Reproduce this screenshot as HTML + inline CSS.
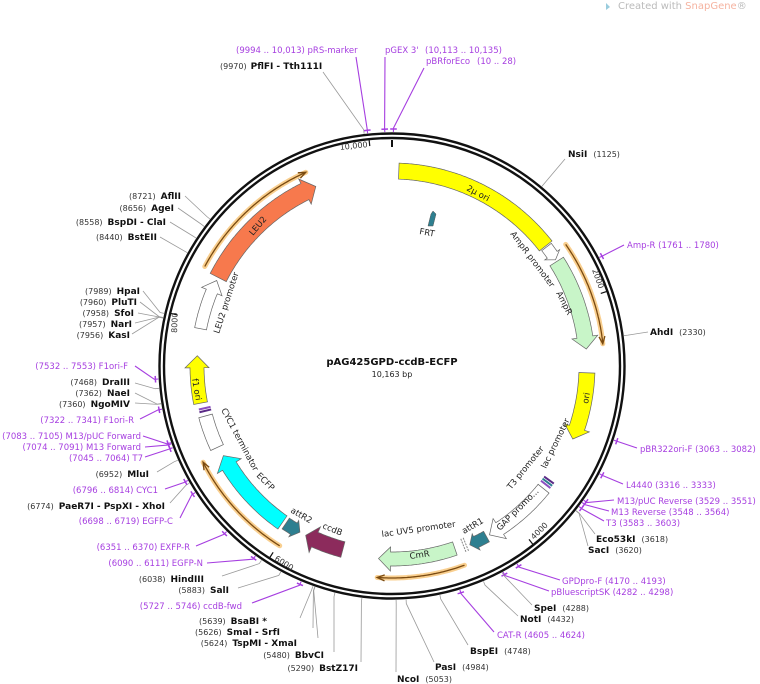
<!DOCTYPE html>
<html><head><meta charset="utf-8">
<style>
html,body{margin:0;padding:0;background:#fff;}
svg{display:block;font-family:"DejaVu Sans","Liberation Sans",sans-serif;}
.n{font-size:8px;fill:#333;}
.e{font-size:9px;font-weight:bold;fill:#111;}
.p{font-size:8.5px;fill:#a63ee0;}
.f{font-size:8.5px;fill:#222;}
</style></head><body>
<svg id="s" width="760" height="684" viewBox="0 0 760 684" xmlns="http://www.w3.org/2000/svg">
<text x="618" y="9" font-size="10" fill="#bbb">Created with <tspan fill="#f5b3a0">SnapGene</tspan>®</text>
<path d="M606 3 l4 4 l-4 3z" fill="#9cd"/>
<g id="lines"></g>
<circle cx="392" cy="366" r="232.5" fill="none" stroke="#111" stroke-width="2.4"/>
<circle cx="392" cy="366" r="228" fill="none" stroke="#111" stroke-width="2.4"/>
<g id="feat"></g>
<text x="392" y="365" text-anchor="middle" font-size="10" font-weight="bold" fill="#111">pAG425GPD-ccdB-ECFP</text>
<text x="392" y="377" text-anchor="middle" font-size="8" fill="#222">10,163 bp</text>
<text class="n" x="340" y="150" transform="rotate(-6 340 150)">10,000</text>
<text class="n" x="592" y="270" transform="rotate(70 592 270)">2000</text>
<text class="n" x="534" y="540" transform="rotate(-45 534 540)">4000</text>
<text class="n" x="274" y="560" transform="rotate(32 274 560)">6000</text>
<text class="n" x="177" y="333" transform="rotate(-88 177 333)">8000</text>
<text class="f" x="466" y="190" transform="rotate(28 466 190)">2μ ori</text>
<text class="f" x="510" y="234" transform="rotate(53 510 234)">AmpR promoter</text>
<text class="f" x="556" y="293" transform="rotate(63 556 293)">AmpR</text>
<text class="f" x="588" y="404" transform="rotate(-80 588 404)">ori</text>
<text class="f" x="546" y="469" transform="rotate(-64 546 469)">lac promoter</text>
<text class="f" x="511" y="490" transform="rotate(-51 511 490)">T3 promoter</text>
<text class="f" x="500" y="531" transform="rotate(-45 500 531)">GAP promo...</text>
<text class="f" x="464" y="534" transform="rotate(-30 464 534)">attR1</text>
<text class="f" x="382" y="537" transform="rotate(-8 382 537)">lac UV5 promoter</text>
<text class="f" x="410" y="559" transform="rotate(-8 410 559)">CmR</text>
<text class="f" x="322" y="528" transform="rotate(22 322 528)">ccdB</text>
<text class="f" x="290" y="512" transform="rotate(30 290 512)">attR2</text>
<text class="f" x="256" y="476" transform="rotate(45 256 476)">ECFP</text>
<text class="f" x="221" y="410" transform="rotate(62 221 410)">CYC1 terminator</text>
<text class="f" x="192" y="379" transform="rotate(80 192 379)">f1 ori</text>
<text class="f" x="219" y="334" transform="rotate(-72 219 334)">LEU2 promoter</text>
<text class="f" x="253" y="236" transform="rotate(-50 253 236)">LEU2</text>
<text class="f" x="419" y="234" transform="rotate(10 419 234)">FRT</text>
<text class="p" x="236" y="53">(9994 .. 10,013)  pRS-marker</text>
<text x="220" y="69"><tspan class="n">(9970)</tspan><tspan class="e" dx="4">PflFI</tspan><tspan class="e" dx="3">- Tth111I</tspan></text>
<text class="p" x="385" y="53">pGEX 3'</text>
<text class="p" x="425" y="53" font-size="8">(10,113 .. 10,135)</text>
<text class="p" x="426" y="64">pBRforEco</text>
<text class="p" x="477" y="64" font-size="8">(10 .. 28)</text>
<text x="568" y="157"><tspan class="e">NsiI</tspan><tspan class="n" dx="6">(1125)</tspan></text>
<text class="p" x="627" y="248">Amp-R   (1761 .. 1780)</text>
<text x="650" y="335"><tspan class="e">AhdI</tspan><tspan class="n" dx="6">(2330)</tspan></text>
<text class="p" x="640" y="452">pBR322ori-F   (3063 .. 3082)</text>
<text class="p" x="626" y="488">L4440   (3316 .. 3333)</text>
<text class="p" x="617" y="504">M13/pUC Reverse   (3529 .. 3551)</text>
<text class="p" x="611" y="515">M13 Reverse   (3548 .. 3564)</text>
<text class="p" x="606" y="526">T3    (3583 .. 3603)</text>
<text x="596" y="542"><tspan class="e">Eco53kI</tspan><tspan class="n" dx="6">(3618)</tspan></text>
<text x="588" y="553"><tspan class="e">SacI</tspan><tspan class="n" dx="6">(3620)</tspan></text>
<text class="p" x="562" y="584">GPDpro-F   (4170 .. 4193)</text>
<text class="p" x="551" y="595">pBluescriptSK   (4282 .. 4298)</text>
<text x="534" y="611"><tspan class="e">SpeI</tspan><tspan class="n" dx="6">(4288)</tspan></text>
<text x="520" y="622"><tspan class="e">NotI</tspan><tspan class="n" dx="6">(4432)</tspan></text>
<text class="p" x="497" y="638">CAT-R   (4605 .. 4624)</text>
<text x="470" y="654"><tspan class="e">BspEI</tspan><tspan class="n" dx="6">(4748)</tspan></text>
<text x="435" y="670"><tspan class="e">PasI</tspan><tspan class="n" dx="6">(4984)</tspan></text>
<text x="397" y="682"><tspan class="e">NcoI</tspan><tspan class="n" dx="6">(5053)</tspan></text>
<g text-anchor="end">
<text x="358" y="671"><tspan class="n">(5290)</tspan><tspan class="e" dx="5">BstZ17I</tspan></text>
<text x="324" y="658"><tspan class="n">(5480)</tspan><tspan class="e" dx="5">BbvCI</tspan></text>
<text x="297" y="646"><tspan class="n">(5624)</tspan><tspan class="e" dx="5">TspMI</tspan><tspan class="e" dx="3">- XmaI</tspan></text>
<text x="280" y="635"><tspan class="n">(5626)</tspan><tspan class="e" dx="5">SmaI</tspan><tspan class="e" dx="3">- SrfI</tspan></text>
<text x="267" y="624"><tspan class="n">(5639)</tspan><tspan class="e" dx="5" fill="#888">BsaBI *</tspan></text>
<text class="p" x="242" y="609">(5727 .. 5746)  ccdB-fwd</text>
<text x="229" y="593"><tspan class="n">(5883)</tspan><tspan class="e" dx="5">SalI</tspan></text>
<text x="204" y="582"><tspan class="n">(6038)</tspan><tspan class="e" dx="5">HindIII</tspan></text>
<text class="p" x="203" y="566">(6090 .. 6111)  EGFP-N</text>
<text class="p" x="190" y="550">(6351 .. 6370)  EXFP-R</text>
<text class="p" x="173" y="524">(6698 .. 6719)  EGFP-C</text>
<text x="165" y="509"><tspan class="n">(6774)</tspan><tspan class="e" dx="5">PaeR7I</tspan><tspan class="e" dx="3">- PspXI</tspan><tspan class="e" dx="3">- XhoI</tspan></text>
<text class="p" x="158" y="493">(6796 .. 6814)  CYC1</text>
<text x="149" y="477"><tspan class="n">(6952)</tspan><tspan class="e" dx="5">MluI</tspan></text>
<text class="p" x="143" y="461">(7045 .. 7064)  T7</text>
<text class="p" x="141" y="450">(7074 .. 7091)  M13 Forward</text>
<text class="p" x="141" y="439">(7083 .. 7105)  M13/pUC Forward</text>
<text class="p" x="134" y="423">(7322 .. 7341)  F1ori-R</text>
<text x="130" y="407"><tspan class="n">(7360)</tspan><tspan class="e" dx="5">NgoMIV</tspan></text>
<text x="130" y="396"><tspan class="n">(7362)</tspan><tspan class="e" dx="5">NaeI</tspan></text>
<text x="130" y="385"><tspan class="n">(7468)</tspan><tspan class="e" dx="5">DraIII</tspan></text>
<text class="p" x="128" y="369">(7532 .. 7553)  F1ori-F</text>
<text x="140" y="294"><tspan class="n">(7989)</tspan><tspan class="e" dx="5">HpaI</tspan></text>
<text x="137" y="305"><tspan class="n">(7960)</tspan><tspan class="e" dx="5">PluTI</tspan></text>
<text x="134" y="316"><tspan class="n">(7958)</tspan><tspan class="e" dx="5">SfoI</tspan></text>
<text x="132" y="327"><tspan class="n">(7957)</tspan><tspan class="e" dx="5">NarI</tspan></text>
<text x="130" y="338"><tspan class="n">(7956)</tspan><tspan class="e" dx="5">KasI</tspan></text>
<text x="157" y="240"><tspan class="n">(8440)</tspan><tspan class="e" dx="5">BstEII</tspan></text>
<text x="166" y="225"><tspan class="n">(8558)</tspan><tspan class="e" dx="5">BspDI</tspan><tspan class="e" dx="3">- ClaI</tspan></text>
<text x="174" y="211"><tspan class="n">(8656)</tspan><tspan class="e" dx="5">AgeI</tspan></text>
<text x="181" y="199"><tspan class="n">(8721)</tspan><tspan class="e" dx="5">AflII</tspan></text>
</g>
</svg>
<script>
(function(){
var NS="http://www.w3.org/2000/svg",cx=392,cy=366,L=10163;
function P(a,r){a=a*Math.PI/180;return [cx+r*Math.sin(a),cy-r*Math.cos(a)];}
function el(g,t,at){var e=document.createElementNS(NS,t);for(var k in at)e.setAttribute(k,at[k]);document.getElementById(g).appendChild(e);return e;}
function arc(a1,a2,r){var p=[],n=Math.max(2,Math.ceil(Math.abs(a2-a1)*2));for(var i=0;i<=n;i++)p.push(P(a1+(a2-a1)*i/n,r));return p;}
function pts(p){return p.map(function(q){return q[0].toFixed(1)+","+q[1].toFixed(1)}).join(" ");}
function arrow(a1,a2,r,w,dir,fill,hl,hw){
 hl=hl||12;hw=hw==null?5:hw;var ro=r+w/2,ri=r-w/2,hd=hl/r*180/Math.PI,p;
 if(dir==0){p=arc(a1,a2,ro).concat(arc(a2,a1,ri));}
 else if(dir==1){var b=a2-hd;p=arc(a1,b,ro).concat([P(b,ro+hw),P(a2,r),P(b,ri-hw)]).concat(arc(b,a1,ri));}
 else {var b=a1+hd;p=[P(a1,r),P(b,ro+hw)].concat(arc(b,a2,ro)).concat(arc(a2,b,ri)).concat([P(b,ri-hw)]);}
 el("feat","polygon",{points:pts(p),fill:fill,stroke:"#666","stroke-width":0.7});
}
function orange(a1,a2){
 var r=212,p=arc(a1,a2,r);
 el("feat","polyline",{points:pts(p),fill:"none",stroke:"#f9cf8f","stroke-width":5,"stroke-linecap":"round"});
 el("feat","polyline",{points:pts(p),fill:"none",stroke:"#7a4a10","stroke-width":1.3});
 var t=P(a2,r),b1=P(a2-2,r+3),b2=P(a2-2,r-3);
 el("feat","polyline",{points:pts([b1,t,b2]),fill:"none",stroke:"#7a4a10","stroke-width":1.3});
}
[0,2000,4000,6000,8000,10000].forEach(function(bp){var a=bp/L*360,r1=bp==0?226:227,r2=bp==0?219:221;var p1=P(a,r1),p2=P(a,r2);
 el("feat","line",{x1:p1[0],y1:p1[1],x2:p2[0],y2:p2[1],stroke:"#111","stroke-width":bp==0?2:1.2});});
orange(55,84);orange(160,184);orange(212,243);orange(298,336);
arrow(2,52,195,16,0,"#ffff00");
arrow(52.4,57,195,12,1,"#ffffff",6,3);
arrow(57.6,85,195,16,1,"#c8f5c8");
arrow(92,112,195,16,1,"#ffff00");
arrow(129,150,195,14,1,"#ffffff");
arrow(151,156.5,195,12,1,"#2e7f90",7,3);
arrow(161,184,193,14,1,"#c8f5c8");
arrow(195,207,190,16,1,"#8c2b5c",10,6);
arrow(209,214,190,13,-1,"#2e7f90",7,3);
arrow(215,242,191,16,1,"#00ffff",12,6);
arrow(245,255,193,14,0,"#ffffff");
arrow(259,273,195,14,1,"#ffff00");
arrow(281,296,195,12,1,"#ffffff");
arrow(297,337,195,18,1,"#f7794d",12,5);
[[126,"#5b2a86"],[126.8,"#2e7f90"],[127.6,"#8c4fc0"]].forEach(function(x){var a=P(x[0],188),b=P(x[0],200);el("feat","line",{x1:a[0],y1:a[1],x2:b[0],y2:b[1],stroke:x[1],"stroke-width":2});});
[[157.5,"#888"],[158.3,"#888"]].forEach(function(x){var a=P(x[0],186),b=P(x[0],200);el("feat","line",{x1:a[0],y1:a[1],x2:b[0],y2:b[1],stroke:x[1],"stroke-width":1,"stroke-dasharray":"2,1"});});
[[256.5,"#5b2a86"],[257.3,"#8c4fc0"]].forEach(function(x){var a=P(x[0],186),b=P(x[0],198);el("feat","line",{x1:a[0],y1:a[1],x2:b[0],y2:b[1],stroke:x[1],"stroke-width":2});});
el("feat","polygon",{points:"428,226 431,214 433,211 436,214 433,226",fill:"#2e7f90",stroke:"#555","stroke-width":0.5});
var Ls=[[9970,323,72],[9994,356,57,1],[10113,385,57,1],[10,424,68,1],
[1125,565,159],[1761,624,245,1],[2330,648,332],[3063,637,448,1],[3316,623,484,1],[3529,614,500,1],[3548,609,511,1],[3583,604,521,1],[3618,595,534],[3620,588,546],
[4170,560,580,1],[4282,549,591,1],[4288,532,605],[4432,518,616],[4605,494,632,1],[4748,468,645],[4984,434,662],[5053,396,672],
[5290,361,662],[5480,334,652],[5624,318,638],[5626,313,628],[5639,300,618],[5727,252,603,1],[5883,238,588],[6038,222,576],[6090,207,563,1],[6351,196,546,1],[6698,180,518,1],[6774,170,503],[6796,165,489,1],[6952,157,472],[7045,145,457,1],[7074,145,447,1],[7083,143,436,1],[7322,140,419,1],[7360,135,403],[7362,135,393],[7468,135,383],[7532,135,366,1],
[7956,132,334],[7957,135,323],[7958,138,313],[7960,140,302],[7989,143,291],[8440,160,237],[8558,170,222],[8656,178,208],[8721,185,196]];
Ls.forEach(function(l){var a=l[0]/L*360,p=P(a,238),q=P(a,234),c=l[3]?"#a63ee0":"#999";
 el("lines","polyline",{points:pts([[l[1],l[2]],p,q]),fill:"none",stroke:c,"stroke-width":l[3]?1.1:0.8});
 if(l[3]){var s=arc(a-0.8,a+0.8,237);el("lines","polyline",{points:pts(s),fill:"none",stroke:c,"stroke-width":1.5});}
});
})();
</script>
</body></html>
